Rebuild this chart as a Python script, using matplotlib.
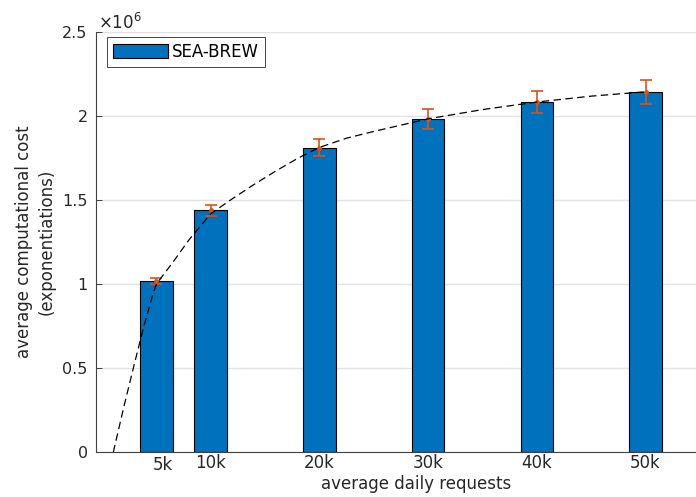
import matplotlib
matplotlib.use("Agg")
import matplotlib.pyplot as plt
from matplotlib.ticker import FuncFormatter
from matplotlib.transforms import ScaledTranslation

# Average daily requests (thousands) and tick labels
requests_k = [5, 10, 20, 30, 40, 50]
tick_labels = ["5k", "10k", "20k", "30k", "40k", "50k"]

# Mean computational cost (exponentiations) and its spread
cost_mean = [1.018e6, 1.440e6, 1.814e6, 1.985e6, 2.084e6, 2.146e6]
cost_err = [0.018e6, 0.034e6, 0.051e6, 0.061e6, 0.066e6, 0.071e6]

# Trend curve (requests in thousands, cost)
trend_k = [1.03, 2.0, 2.87, 3.8, 4.71, 5.0, 5.5, 6.5, 8.0, 10.0, 12.0, 14.0,
           16.0, 18.0, 20.0, 22.5, 25.0, 30.0, 35.0, 40.0, 45.0, 50.0]
trend_cost = [0.0, 0.27e6, 0.50e6, 0.74e6, 0.95e6, 1.0e6, 1.045e6, 1.13e6,
              1.265e6, 1.42e6, 1.51e6, 1.595e6, 1.675e6, 1.75e6, 1.815e6,
              1.87e6, 1.91e6, 1.985e6, 2.04e6, 2.085e6, 2.12e6, 2.146e6]

series_name = "SEA-BREW"
bar_color = "#0072BD"
err_color = "#D95319"
text_color = "#262626"

plt.rcParams["font.family"] = ["DejaVu Sans"]
plt.rcParams["mathtext.fontset"] = "dejavusans"

W, H = 696, 497
fig = plt.figure(figsize=(W / 100, H / 100), dpi=100)
ax = fig.add_axes([96 / W, (H - 452.3) / H, (W - 96) / W, 420 / H])

ax.bar(requests_k, cost_mean, width=3.0, color=bar_color, edgecolor="black",
       linewidth=0.8, zorder=2, label=series_name)
ax.errorbar(requests_k, cost_mean, yerr=cost_err, fmt=".", color=err_color,
            ecolor=err_color, elinewidth=1.2, capsize=4, capthick=1.2,
            markersize=5, zorder=3)
ax.plot(trend_k, trend_cost, color="black", linewidth=0.9,
        linestyle=(0, (6, 3.5)), zorder=4)

ax.set_xlim(-0.56, 54.64)
ax.set_ylim(0, 2.5e6)

ax.set_yticks([0, 0.5e6, 1.0e6, 1.5e6, 2.0e6, 2.5e6])
ax.yaxis.set_major_formatter(FuncFormatter(lambda v, p: f"{v / 1e6:g}"))
ax.tick_params(axis="y", direction="in", length=4, width=0.6,
               color=text_color, labelcolor=text_color, labelsize=11.5, pad=6)

ax.set_xticks(requests_k)
ax.set_xticklabels(tick_labels)
ax.tick_params(axis="x", length=0, labelcolor=text_color, labelsize=12, pad=1.5)
first = ax.get_xticklabels()[0]
first.set_transform(first.get_transform() +
                    ScaledTranslation(6 / 100, -2 / 100, fig.dpi_scale_trans))

ax.yaxis.grid(True, color="#e2e2e2", linewidth=1.0)
ax.set_axisbelow(True)
for side in ("top", "right"):
    ax.spines[side].set_visible(False)
for side in ("left", "bottom"):
    ax.spines[side].set_color("#404040")
    ax.spines[side].set_linewidth(0.8)

ax.annotate(r"$\times10^{6}$", xy=(0, 1), xycoords="axes fraction",
            xytext=(1.5, 2.5), textcoords="offset points", ha="left",
            va="baseline", fontsize=12, color=text_color)

leg = ax.legend(loc="upper left", bbox_to_anchor=((106.7 - 96) / 600, (452.3 - 37) / 420),
                borderaxespad=0, fontsize=12, handlelength=3.35, handleheight=0.93,
                handletextpad=0.22, borderpad=0.35, fancybox=False, framealpha=1)
leg.get_frame().set_edgecolor(text_color)
leg.get_frame().set_linewidth(0.6)

fig.text(35 / W, 1 - 242 / H, "average computational cost\n(exponentiations)",
         rotation=90, ha="center", va="center", multialignment="center",
         fontsize=12, color=text_color, linespacing=1.35)
fig.text(416 / W, 1 - 484 / H, "average daily requests", ha="center",
         va="center", fontsize=12, color=text_color)

fig.savefig("out.png", dpi=100)
